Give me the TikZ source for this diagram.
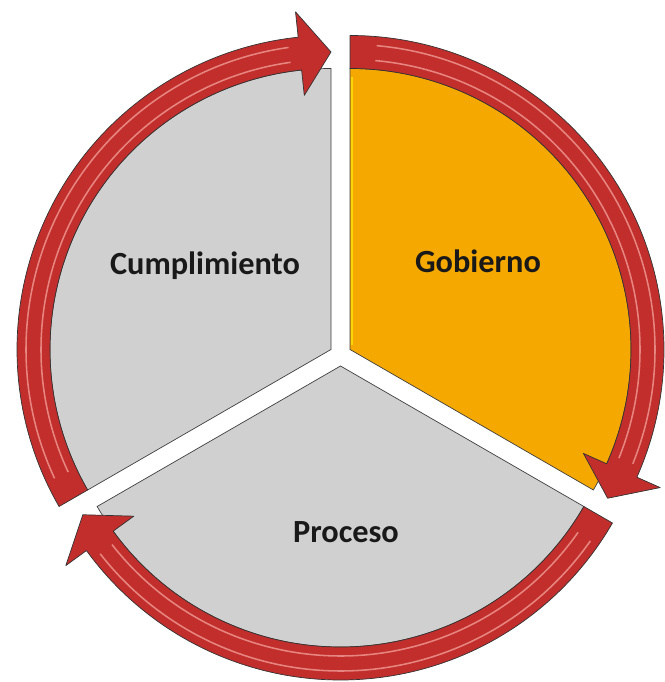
\documentclass[tikz,border=0pt]{standalone}
\usepackage{fontspec}
\setmainfont{Carlito}
\usepackage{tikz}
\definecolor{govorange}{HTML}{F5A800}
\definecolor{slicegray}{HTML}{D0D0D0}
\definecolor{ringred}{HTML}{C22E2C}
\definecolor{ringlight}{HTML}{EE958F}
\tikzset{
  slice/.style={draw=black!75, line width=0.5pt},
  ringarrow/.style={fill=ringred, draw=black!80, line width=0.5pt, line join=round},
  gloss/.style={draw=ringlight, line width=1.1pt, opacity=0.85},
  lbl/.style={anchor=base, text=black!90}
}

\begin{document}
\begin{tikzpicture}[x=0.025cm, y=0.025cm]%
\fill[white] (0,0) rectangle (664,682);%
\useasboundingbox (0,0) rectangle (664,682);%
% Gobierno
\begin{scope}[shift={(350,332.5)}]%
\filldraw[slice, fill=govorange] (0,0) -- (90:281) arc[start angle=90, end angle=-30, radius=281] -- cycle;%
\draw[yellow!60!govorange, line width=2pt] (2,4) -- (2,272);%
\filldraw[ringarrow] (90:281) arc[start angle=90, end angle=-24, radius=281] -- (-24:255.5) -- (-30:297.5) -- (-24:339.5) -- (-24:314) arc[start angle=-24, end angle=90, radius=314] -- cycle;%
\draw[gloss] (85:290) arc[start angle=85, end angle=-22, radius=290];%
\draw[gloss] (85:305) arc[start angle=85, end angle=-22, radius=305];%
\end{scope}%
% Proceso
\begin{scope}[shift={(340.5,316)}]%
\filldraw[slice, fill=slicegray] (0,0) -- (-30:281) arc[start angle=-30, end angle=-150, radius=281] -- cycle;%
\filldraw[ringarrow] (-30:281) arc[start angle=-30, end angle=-144, radius=281] -- (-144:255.5) -- (-150:297.5) -- (-144:339.5) -- (-144:314) arc[start angle=-144, end angle=-30, radius=314] -- cycle;%
\draw[gloss] (-35:290) arc[start angle=-35, end angle=-142, radius=290];%
\draw[gloss] (-35:305) arc[start angle=-35, end angle=-142, radius=305];%
\end{scope}%
% Cumplimiento
\begin{scope}[shift={(331,332.5)}]%
\filldraw[slice, fill=slicegray] (0,0) -- (210:281) arc[start angle=210, end angle=90, radius=281] -- cycle;%
\filldraw[ringarrow] (210:281) arc[start angle=210, end angle=96, radius=281] -- (96:255.5) -- (90:297.5) -- (96:339.5) -- (96:314) arc[start angle=96, end angle=210, radius=314] -- cycle;%
\draw[gloss] (205:290) arc[start angle=205, end angle=98, radius=290];%
\draw[gloss] (205:305) arc[start angle=205, end angle=98, radius=305];%
\end{scope}%
% labels
\node[lbl] (gobierno) at (478,409) {\fontsize{23pt}{23pt}\selectfont\bfseries Gobierno};%
\node[lbl] (cumplimiento) at (205,407) {\fontsize{23pt}{23pt}\selectfont\bfseries Cumplimiento};%
\node[lbl] (proceso) at (346,139) {\fontsize{23pt}{23pt}\selectfont\bfseries Proceso};%
\end{tikzpicture}
\end{document}
